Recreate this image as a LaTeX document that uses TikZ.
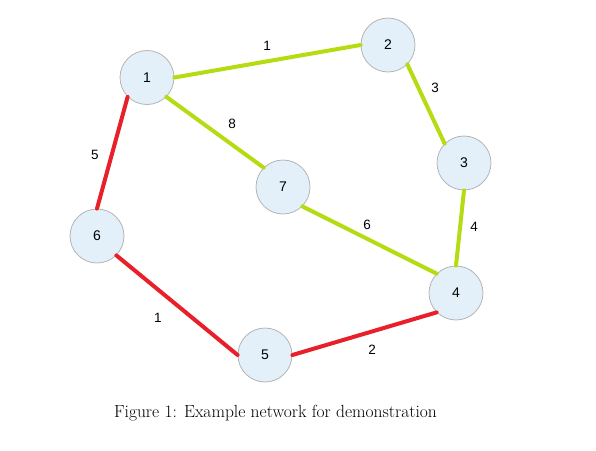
\documentclass[tikz,border=0pt]{standalone}
\usepackage{fontspec}
\newfontfamily\lab{Liberation Sans}
\definecolor{ngreen}{HTML}{B5DC12}
\definecolor{nred}{HTML}{E8202A}
\definecolor{nfill}{HTML}{E3F0F9}
\definecolor{nborder}{HTML}{B4B4B4}
\begin{document}
\begin{tikzpicture}[x=1pt,y=-1pt,
  vert/.style={circle,draw=nborder,fill=nfill,line width=0.8pt,minimum size=54pt,inner sep=0pt,font=\lab\fontsize{14}{16}\selectfont},
  gedge/.style={draw=ngreen,line width=4pt,line cap=round},
  redge/.style={draw=nred,line width=4pt,line cap=round},
  elab/.style={font=\lab\fontsize{13.5}{15}\selectfont,inner sep=0pt}]
\useasboundingbox (0,0) rectangle (596,450);
\node[vert] (n1) at (147,77.5) {1};
\node[vert] (n2) at (388,45) {2};
\node[vert] (n3) at (464,163) {3};
\node[vert] (n4) at (456,293) {4};
\node[vert] (n5) at (265,355) {5};
\node[vert] (n6) at (97,236) {6};
\node[vert] (n7) at (283,187) {7};
\draw[gedge] (n1.east) -- (n2.west);
\draw[gedge] (n2.south east) -- (n3.north west);
\draw[gedge] (n3.south) -- (n4.north);
\draw[gedge] (n7.south east) -- (n4.north west);
\draw[gedge] (n1.south east) -- (n7.north west);
\draw[redge] (n1.south west) -- (n6.north);
\draw[redge] (n6.south east) -- (n5.west);
\draw[redge] (n5.east) -- (n4.south west);
\node[elab] (l12) at (267,46) {1};
\node[elab] (l23) at (435,88) {3};
\node[elab] (l34) at (474,227) {4};
\node[elab] (l47) at (367,225) {6};
\node[elab] (l17) at (232,124) {8};
\node[elab] (l16) at (95,155) {5};
\node[elab] (l65) at (158,318) {1};
\node[elab] (l54) at (372,350) {2};
\node[font=\fontsize{17.5}{20}\selectfont,inner sep=0pt] (cap) at (275.5,413) {Figure 1: Example network for demonstration};
\end{tikzpicture}
\end{document}
